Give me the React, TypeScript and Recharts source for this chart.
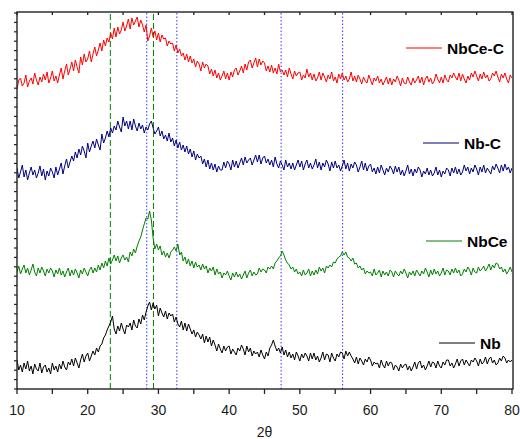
import { LineChart, Line, XAxis, YAxis, ReferenceLine } from "recharts";

// 2θ sampling grid: 10° → 80° in 0.25° steps (281 points)
const twoTheta = Array.from({ length: 281 }, (_, i) => 10 + i * 0.25);

// intensities (arbitrary units, stacked offsets)
const nbceC = [
  300, 309, 311, 303, 306, 314, 302, 308, 311, 305, 316, 309, 304, 312, 307, 315,
  309, 317, 306, 311, 318, 308, 313, 306, 314, 321, 310, 318, 325, 314, 320, 327,
  318, 329, 322, 316, 332, 324, 335, 327, 330, 338, 327, 335, 342, 333, 339, 346,
  338, 349, 343, 351, 347, 356, 350, 361, 352, 362, 355, 359, 367, 358, 363, 370,
  360, 371, 364, 368, 372, 362, 369, 364, 357, 364, 348, 353, 361, 352, 358, 349,
  356, 347, 354, 350, 351, 343, 348, 345, 346, 338, 344, 336, 340, 333, 336, 329,
  335, 327, 333, 326, 330, 322, 328, 325, 318, 327, 321, 325, 323, 315, 320, 313,
  319, 311, 316, 309, 313, 318, 310, 316, 309, 317, 312, 319, 321, 314, 318, 323,
  316, 325, 319, 327, 329, 321, 326, 331, 322, 330, 324, 328, 326, 318, 323, 317,
  324, 316, 321, 315, 325, 317, 319, 314, 319, 312, 321, 315, 310, 318, 313, 316,
  317, 309, 314, 311, 320, 312, 316, 309, 315, 308, 311, 317, 309, 316, 312, 307,
  314, 310, 317, 308, 312, 306, 315, 310, 316, 309, 313, 307, 310, 317, 308, 313,
  307, 314, 310, 305, 312, 308, 306, 314, 309, 304, 311, 308, 313, 306, 310, 304,
  308, 312, 305, 311, 304, 310, 307, 313, 309, 303, 311, 306, 305, 312, 307, 304,
  311, 306, 309, 313, 306, 312, 304, 310, 313, 307, 311, 305, 308, 315, 310, 306,
  312, 306, 314, 309, 307, 314, 311, 316, 312, 309, 316, 308, 315, 310, 306, 313,
  309, 316, 312, 318, 313, 308, 315, 310, 317, 311, 314, 308, 310, 316, 313, 318,
  312, 307, 315, 311, 316, 310, 306, 314, 311,
];

const nbC = [
  221, 211, 217, 224, 212, 219, 209, 216, 222, 214, 219, 211, 216, 223, 213, 220,
  209, 218, 213, 221, 217, 211, 222, 214, 220, 226, 215, 223, 230, 221, 227, 233,
  228, 237, 231, 240, 234, 243, 238, 231, 246, 237, 243, 248, 241, 250, 244, 239,
  255, 246, 251, 258, 252, 261, 256, 263, 259, 268, 262, 257, 272, 263, 268, 260,
  268, 259, 270, 263, 258, 266, 260, 264, 256, 262, 259, 265, 268, 261, 255, 258,
  262, 253, 258, 250, 254, 248, 256, 247, 251, 243, 249, 241, 247, 239, 244, 237,
  243, 235, 240, 232, 238, 229, 235, 231, 233, 225, 230, 222, 229, 220, 226, 219,
  225, 217, 223, 219, 219, 227, 221, 228, 225, 219, 229, 222, 228, 221, 226, 231,
  224, 232, 226, 229, 231, 224, 229, 234, 227, 234, 225, 231, 233, 226, 230, 224,
  229, 222, 232, 225, 221, 228, 224, 219, 229, 222, 226, 220, 226, 219, 224, 229,
  222, 228, 219, 225, 229, 221, 226, 220, 224, 230, 221, 227, 219, 226, 222, 229,
  225, 218, 227, 221, 228, 221, 224, 218, 223, 229, 220, 226, 218, 225, 221, 227,
  224, 217, 222, 228, 219, 226, 218, 223, 225, 217, 221, 215, 222, 216, 224, 219,
  214, 221, 217, 223, 220, 215, 223, 217, 222, 214, 219, 213, 218, 224, 215, 220,
  213, 220, 216, 222, 219, 212, 218, 215, 221, 214, 219, 213, 216, 222, 214, 219,
  212, 218, 215, 221, 219, 213, 221, 216, 222, 215, 220, 214, 217, 224, 218, 222,
  215, 221, 217, 224, 220, 214, 222, 217, 224, 216, 221, 218, 215, 223, 219, 225,
  221, 216, 224, 218, 225, 219, 222, 216, 221,
];

const nbce = [
  117, 123, 115, 120, 124, 116, 121, 114, 119, 125, 117, 113, 121, 116, 122, 118,
  113, 120, 116, 121, 118, 112, 119, 115, 121, 114, 118, 112, 117, 121, 113, 119,
  114, 120, 116, 111, 119, 115, 121, 117, 113, 119, 122, 116, 121, 117, 124, 119,
  126, 121, 128, 123, 131, 125, 129, 134, 128, 133, 126, 131, 134, 129, 132, 127,
  137, 133, 140, 136, 143, 148, 152, 159, 165, 171, 170, 178, 169, 151, 140, 145,
  139, 143, 134, 138, 132, 136, 131, 137, 139, 142, 138, 145, 134, 137, 128, 132,
  125, 130, 123, 128, 121, 127, 122, 124, 119, 125, 120, 123, 116, 121, 118, 122,
  114, 120, 115, 117, 111, 116, 114, 118, 113, 109, 116, 112, 117, 112, 115, 110,
  114, 118, 111, 116, 119, 113, 117, 114, 115, 121, 117, 120, 119, 116, 122, 120,
  123, 120, 126, 128, 131, 133, 138, 134, 129, 126, 124, 120, 122, 117, 120, 115,
  117, 113, 119, 114, 116, 120, 113, 118, 114, 119, 115, 122, 118, 121, 116, 123,
  121, 124, 122, 127, 126, 130, 132, 133, 137, 134, 137, 132, 131, 128, 131, 125,
  126, 121, 123, 119, 121, 115, 118, 116, 117, 113, 120, 114, 116, 119, 112, 118,
  114, 117, 113, 119, 117, 112, 118, 115, 113, 118, 115, 120, 116, 111, 117, 114,
  118, 113, 119, 116, 113, 118, 115, 121, 117, 112, 119, 114, 120, 115, 118, 113,
  116, 121, 114, 119, 118, 114, 120, 116, 121, 116, 119, 113, 115, 120, 117, 122,
  119, 114, 121, 117, 116, 122, 118, 120, 123, 118, 121, 125, 119, 124, 121, 126,
  125, 120, 122, 117, 120, 115, 118, 122, 117,
];

const nb = [
  29, 19, 24, 17, 26, 20, 28, 18, 23, 15, 25, 20, 18, 26, 16, 22,
  24, 17, 21, 15, 26, 19, 23, 17, 25, 20, 28, 22, 19, 27, 24, 30,
  23, 31, 26, 21, 29, 35, 27, 33, 36, 28, 33, 38, 34, 41, 37, 43,
  45, 51, 54, 59, 63, 67, 73, 60, 55, 63, 58, 66, 60, 55, 64, 62,
  66, 59, 69, 63, 61, 70, 65, 74, 69, 77, 83, 87, 79, 86, 80, 84,
  73, 81, 76, 72, 78, 70, 76, 73, 75, 67, 72, 65, 62, 68, 59, 66,
  58, 65, 60, 55, 59, 52, 57, 54, 50, 55, 46, 53, 47, 52, 43, 49,
  44, 38, 45, 40, 36, 43, 38, 42, 43, 35, 40, 37, 34, 41, 38, 44,
  40, 34, 43, 37, 41, 33, 38, 35, 37, 32, 39, 34, 30, 37, 33, 41,
  44, 49, 43, 38, 41, 36, 42, 34, 39, 32, 37, 31, 35, 29, 37, 33,
  28, 35, 31, 36, 33, 28, 36, 30, 36, 29, 33, 27, 31, 37, 29, 35,
  34, 27, 36, 31, 28, 35, 32, 37, 36, 30, 38, 33, 37, 33, 30, 26,
  32, 25, 31, 28, 24, 30, 27, 32, 29, 23, 27, 25, 26, 21, 29, 24,
  21, 28, 23, 27, 26, 19, 24, 22, 18, 25, 21, 24, 25, 19, 23, 18,
  22, 27, 20, 26, 28, 21, 24, 19, 23, 28, 22, 27, 26, 21, 28, 23,
  21, 27, 24, 29, 29, 23, 26, 21, 25, 30, 23, 28, 30, 24, 29, 26,
  23, 29, 27, 31, 28, 23, 30, 25, 27, 32, 25, 30, 32, 26, 29, 24,
  26, 31, 28, 33, 31, 26, 29, 27, 29,
];

const xTicks = [10, 15, 20, 25, 30, 35, 40, 45, 50, 55, 60, 65, 70, 75, 80];
const greenMarks = [23.2, 29.3];
const blueMarks = [28.35, 32.6, 47.35, 56.05];

const data = twoTheta.map((t, i) => ({
  t,
  nbceC: nbceC[i],
  nbC: nbC[i],
  nbce: nbce[i],
  nb: nb[i],
}));

const yTicks = Array.from({ length: 41 }, (_, i) => i * 9.4);

const legend = [
  { name: "NbCe-C", color: "#ff0000", lx: 406, ly: 48, tx: 447, ty: 54 },
  { name: "Nb-C", color: "#000080", lx: 423, ly: 143, tx: 464, ty: 148.5 },
  { name: "NbCe", color: "#008000", lx: 426, ly: 241, tx: 467, ty: 246.5 },
  { name: "Nb", color: "#000000", lx: 439, ly: 343, tx: 480, ty: 348.5 },
];

// plot frame (matches chart margins below)
const frame = { left: 17, top: 12, right: 513, bottom: 389 };

const font = "'Liberation Sans', Arial, sans-serif";
const axisColor = "#222222";

const BottomTick = (props: any) => {
  const { x, y, payload } = props;
  if (payload.value % 10 !== 0) return <g />;
  return (
    <text x={x} y={y} dy="0.71em" textAnchor="middle" fill="#1a1a1a" fontSize={14} fontFamily={font}>
      {payload.value}
    </text>
  );
};

const NoTick = () => <g />;

export default function App() {
  return (
    <div style={{ position: "relative", width: 520, height: 439 }}>
      <style>{"body{margin:0;overflow:hidden}"}</style>
      <LineChart width={520} height={439} data={data} margin={{ top: 12, right: 7, bottom: 0, left: 16 }}>
        <XAxis
          xAxisId="bottom"
          dataKey="t"
          type="number"
          domain={[10, 80]}
          ticks={xTicks}
          interval={0}
          allowDataOverflow
          height={50}
          tickSize={5}
          tickMargin={11}
          tick={<BottomTick />}
          stroke={axisColor}
          axisLine={false}
          tickLine={{ stroke: axisColor, strokeWidth: 1.3 }}
          label={{ value: "2θ", position: "insideBottom", offset: 2, fill: "#1a1a1a", fontSize: 14, fontFamily: font }}
        />
        <XAxis
          xAxisId="top"
          dataKey="t"
          type="number"
          orientation="top"
          domain={[10, 80]}
          ticks={xTicks}
          interval={0}
          height={1}
          mirror
          tickSize={3}
          tick={<NoTick />}
          stroke={axisColor}
          axisLine={false}
          tickLine={{ stroke: axisColor, strokeWidth: 1.3 }}
        />
        <YAxis
          yAxisId="left"
          domain={[0, 377]}
          ticks={yTicks}
          interval={0}
          width={1}
          tickSize={3}
          tick={<NoTick />}
          stroke={axisColor}
          axisLine={false}
          tickLine={{ stroke: axisColor, strokeWidth: 1.2 }}
        />
        <YAxis
          yAxisId="right"
          orientation="right"
          domain={[0, 377]}
          ticks={yTicks}
          interval={0}
          width={1}
          tickSize={3}
          tick={<NoTick />}
          stroke={axisColor}
          axisLine={false}
          tickLine={{ stroke: axisColor, strokeWidth: 1.2 }}
        />
        {greenMarks.map((m) => (
          <ReferenceLine key={"g" + m} xAxisId="bottom" yAxisId="left" x={m} stroke="#008000" strokeDasharray="6 3" />
        ))}
        {blueMarks.map((m) => (
          <ReferenceLine key={"b" + m} xAxisId="bottom" yAxisId="left" x={m} stroke="#3333ff" strokeDasharray="1.5 2" />
        ))}
        <Line xAxisId="bottom" yAxisId="left" dataKey="nbceC" stroke="#ff0000" strokeWidth={1} dot={false} isAnimationActive={false} />
        <Line xAxisId="bottom" yAxisId="left" dataKey="nbC" stroke="#000080" strokeWidth={1} dot={false} isAnimationActive={false} />
        <Line xAxisId="bottom" yAxisId="left" dataKey="nbce" stroke="#008000" strokeWidth={1} dot={false} isAnimationActive={false} />
        <Line xAxisId="bottom" yAxisId="left" dataKey="nb" stroke="#000000" strokeWidth={1} dot={false} isAnimationActive={false} />
      </LineChart>
      <svg width={520} height={439} style={{ position: "absolute", left: 0, top: 0, pointerEvents: "none" }}>
        <rect
          x={frame.left}
          y={frame.top}
          width={frame.right - frame.left}
          height={frame.bottom - frame.top}
          fill="none"
          stroke={axisColor}
          strokeWidth={1.4}
        />
        {legend.map((l) => (
          <g key={l.name}>
            <line x1={l.lx} x2={l.lx + 36} y1={l.ly} y2={l.ly} stroke={l.color} strokeWidth={1} />
            <text x={l.tx} y={l.ty} fontSize={15.5} fontWeight="bold" fontFamily={font} fill="#000">
              {l.name}
            </text>
          </g>
        ))}
      </svg>
    </div>
  );
}
